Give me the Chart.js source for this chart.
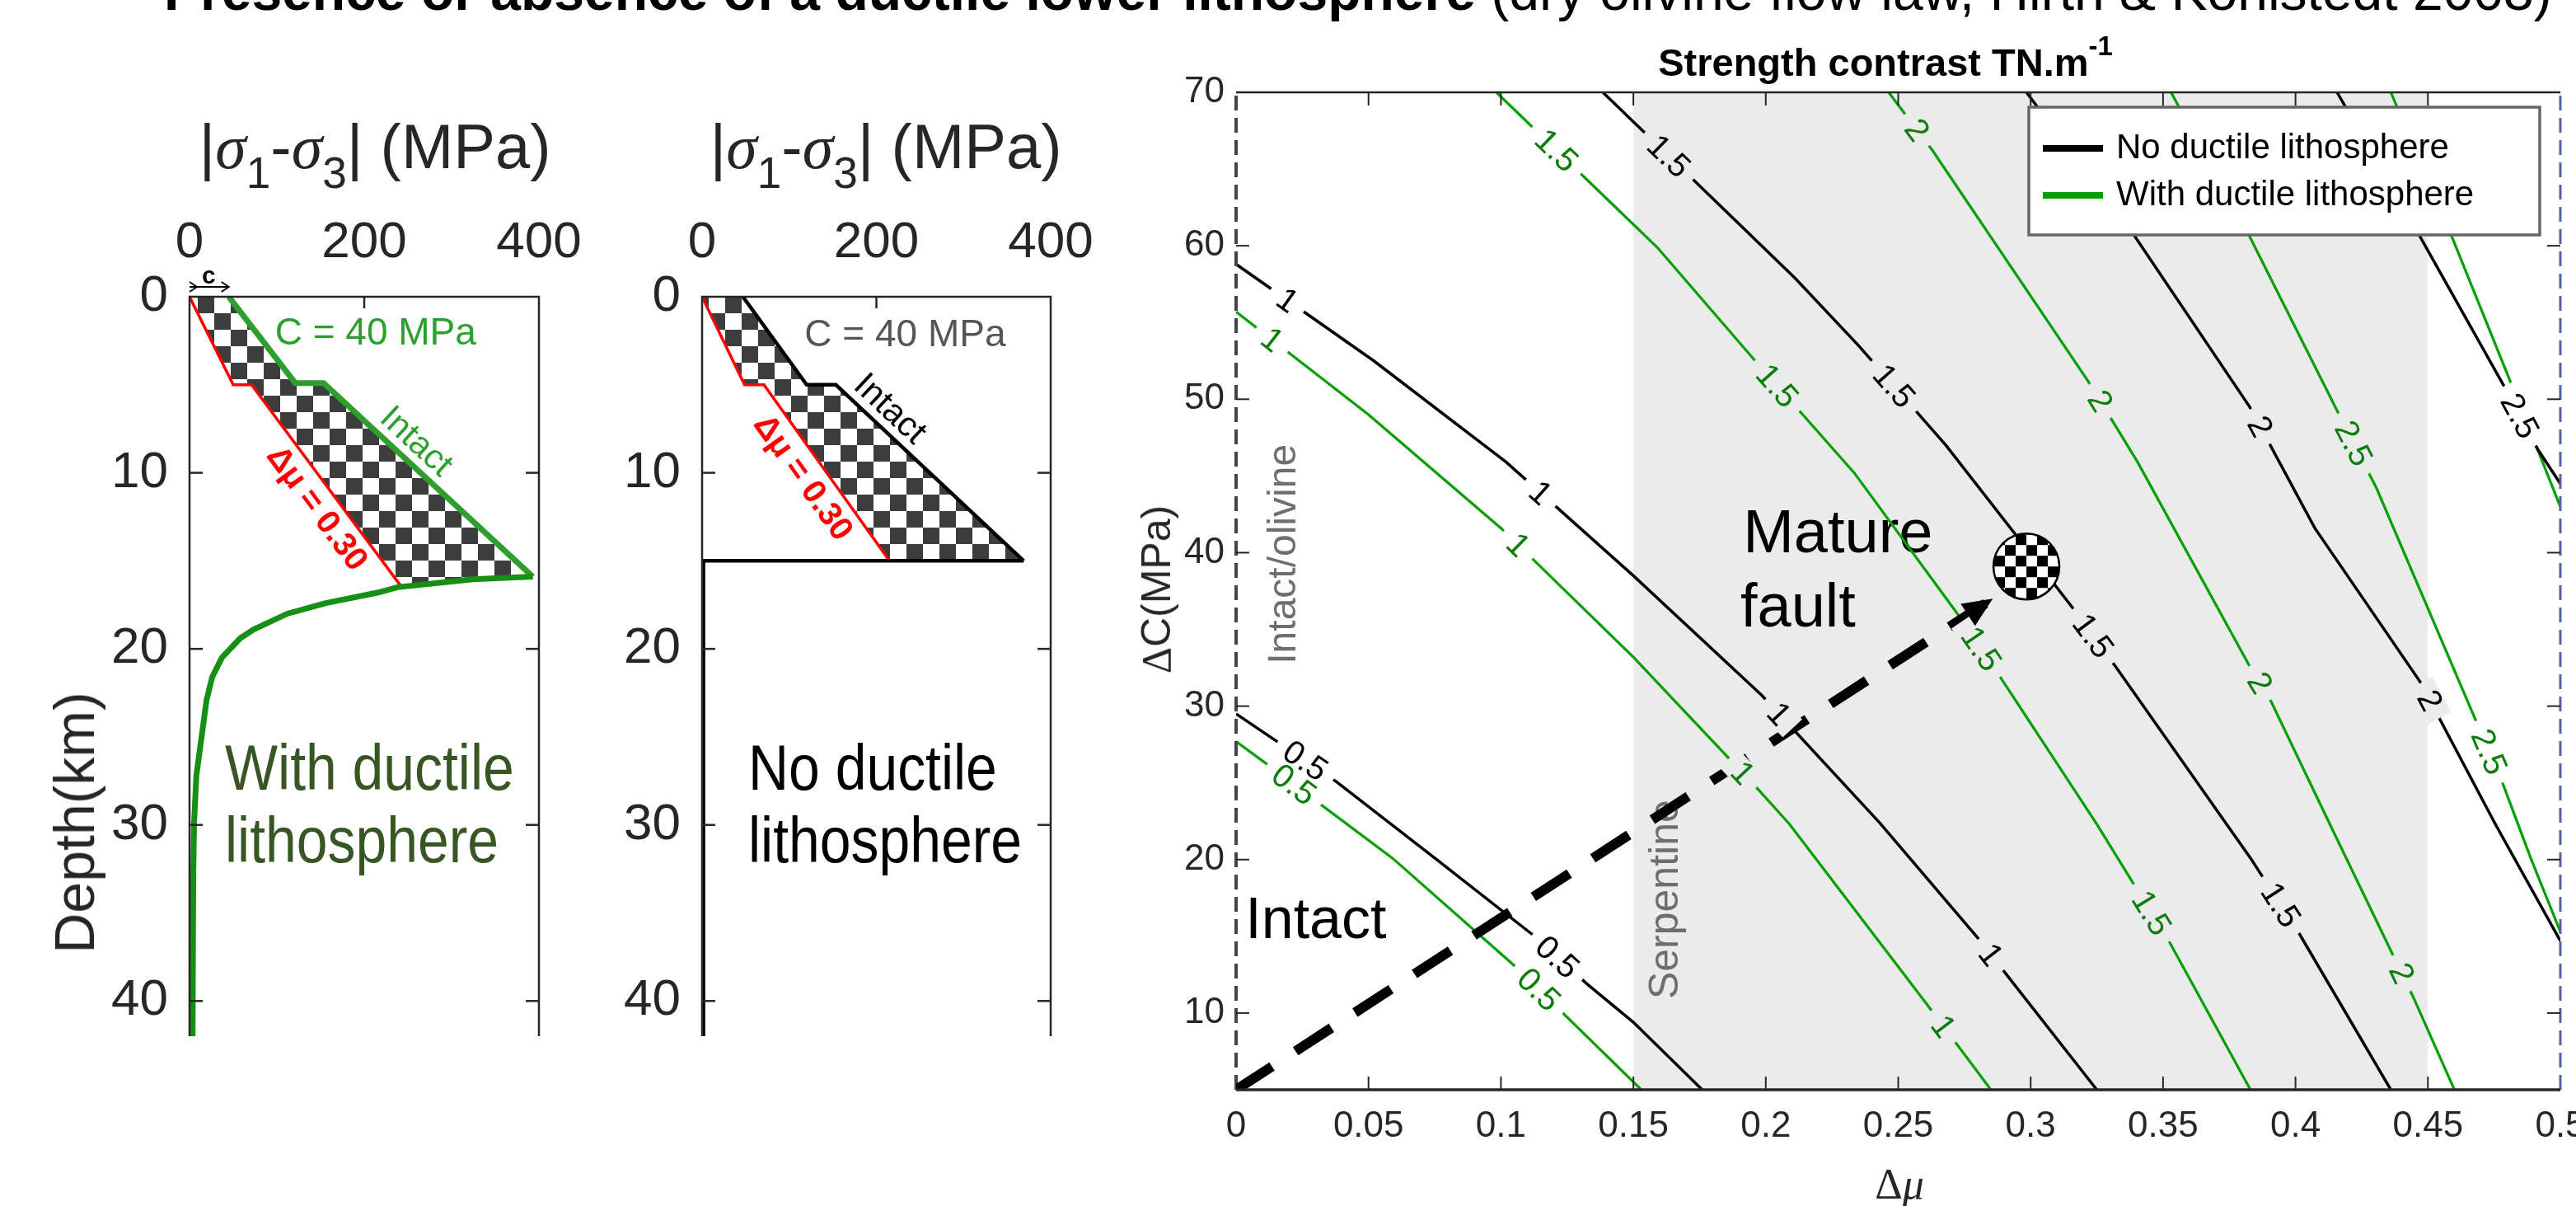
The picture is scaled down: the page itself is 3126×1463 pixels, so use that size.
<!DOCTYPE html>
<html>
<head>
<meta charset="utf-8">
<script src="https://cdn.jsdelivr.net/npm/chart.js@4.4.1/dist/chart.umd.min.js"></script>
<style>
  html, body { margin: 0; padding: 0; background: #fff; }
  body { position: relative; width: 3126px; height: 1463px; overflow: hidden; font-family: "Liberation Sans", Arial, sans-serif; color: #262626; }
  canvas { position: absolute; }
  .lbl { position: absolute; white-space: nowrap; line-height: 1; z-index: 2; }
  .sig { font-family: "Liberation Serif", "Times New Roman", serif; font-style: italic; }
  .sub { font-size: 0.7em; position: relative; top: 0.45em; }
  .rot { transform: translate(-50%, -50%) rotate(-90deg); }
  .ctr { transform: translate(-50%, -50%); }
</style>
</head>
<body>
<div class="lbl" style="left:199px; top:-44px; font-size:66px; color:#000;"><b>Presence or absence of a ductile lower lithosphere</b> (dry olivine flow law, Hirth &amp; Kohlstedt 2003)</div>

<div class="lbl" style="left:155px; width:600px; text-align:center; top:140px; font-size:76px;">|<span class="sig">σ</span><span class="sub">1</span>-<span class="sig">σ</span><span class="sub">3</span>| (MPa)</div>
<div class="lbl" style="left:775px; width:600px; text-align:center; top:140px; font-size:76px;">|<span class="sig">σ</span><span class="sub">1</span>-<span class="sig">σ</span><span class="sub">3</span>| (MPa)</div>
<div class="lbl rot" style="left:90px; top:998px; font-size:68px;">Depth(km)</div>

<div class="lbl" style="left:1988px; width:600px; text-align:center; top:52px; font-size:47px; font-weight:bold; color:#000;">Strength contrast TN.m<span style="font-size:0.7em; position:relative; top:-0.75em;">-1</span></div>
<div class="lbl rot" style="left:1403px; top:715px; font-size:50px;"><span style="font-family:'Liberation Serif',serif;">Δ</span>C(MPa)</div>
<div class="lbl ctr" style="left:2305px; top:1437px; font-size:52px; font-family:'Liberation Serif',serif;">Δ<i>μ</i></div>

<canvas id="profileWith" width="720" height="1017" style="left:0; top:240px;"></canvas>
<canvas id="profileNo" width="620" height="1017" style="left:720px; top:240px;"></canvas>
<canvas id="strengthMap" width="1786" height="1403" style="left:1340px; top:60px;"></canvas>

<script>
// ---- profils |s1-s3| (MPa) vs profondeur (km) ----
const sigmaTicks = [0, 200, 400];
const depthTicks = [0, 10, 20, 30, 40];

const intactWith = [[45, 0], [121, 4.9], [153.5, 4.9], [393, 15.9]];
const faultWith = [[0, 0], [50, 5], [71, 5], [243, 16.5]];
const ductileWith = [[393, 15.9], [324, 16.05], [238, 16.5], [216, 16.8], [156, 17.4], [112, 18.0], [73.5, 18.9], [58, 19.4], [37, 20.5], [26, 21.6], [19.5, 22.9], [13, 25.3], [7.8, 27.2], [5.2, 29.9], [4.3, 32.7], [3.5, 42]];

const intactNo = [[46.8, 0], [120, 5], [153.5, 5], [369, 15]];
const faultNo = [[0, 0], [48.7, 5], [71, 5], [215, 15]];
const faultBaseNo = [[215, 15], [0, 15], [0, 42]];
const baseNo = [[369, 15], [1.5, 15], [1.5, 42]];

// ---- contraste de résistance : delta mu / delta C (MPa) ----
const muTicks = [0, 0.05, 0.1, 0.15, 0.2, 0.25, 0.3, 0.35, 0.4, 0.45, 0.5];
const dcTicks = [10, 20, 30, 40, 50, 60, 70];
const serpentineBand = [0.15, 0.45];

const noDuct05 = [[0, 29.5], [0.0377, 25.1], [0.075, 20.1], [0.112, 15.1], [0.1325, 11.9], [0.15, 9.4], [0.176, 5]];
const noDuct1 = [[0, 58.8], [0.052, 52.5], [0.102, 45.9], [0.15, 38.5], [0.1985, 30.7], [0.243, 22.4], [0.28, 14.9], [0.325, 5]];
const noDuct15 = [[0.1385, 70], [0.211, 57.9], [0.235, 53.5], [0.268, 47], [0.315, 36.6], [0.332, 32.6], [0.383, 20.1], [0.401, 15.3], [0.436, 5]];
const noDuct2 = [[0.2984, 70], [0.3394, 60.6], [0.3827, 49.5], [0.4073, 41.6], [0.447, 31.6], [0.4755, 22.3], [0.5, 14.7]];
const noDuct25 = [[0.4157, 70], [0.447, 60.6], [0.4786, 50.9], [0.4916, 46.7], [0.5, 44.5]];

const withDuct05 = [[0, 27.7], [0.0118, 26.2], [0.059, 20.1], [0.105, 13.1], [0.153, 5]];
const withDuct1 = [[0, 55.7], [0.05, 49.0], [0.1, 41.6], [0.15, 33.2], [0.197, 24.6], [0.209, 22.3], [0.262, 10.3], [0.285, 5]];
const withDuct15 = [[0.0983, 70], [0.1307, 64.6], [0.159, 59.9], [0.195, 52.7], [0.2334, 45.2], [0.2716, 36.2], [0.287, 32.3], [0.325, 22.3], [0.3525, 14.6], [0.383, 5]];
const withDuct2 = [[0.2464, 70], [0.263, 66.2], [0.322, 51.1], [0.3404, 45.9], [0.3827, 32.6], [0.3908, 30.3], [0.413, 22.3], [0.4443, 11.1], [0.46, 5]];
const withDuct25 = [[0.353, 70], [0.3827, 60.6], [0.4185, 48.3], [0.4306, 44.2], [0.468, 29.1], [0.4786, 24.8], [0.4888, 20.1], [0.5, 15.3]];
const withDuct3 = [[0.436, 70], [0.459, 60.6], [0.485, 49.5], [0.5, 43]];

// [niveau, mu, C] des étiquettes de contour
const noDuctLabels = [[0.5, 0.026, 26.4], [0.5, 0.12, 13.4], [1, 0.02, 56.6], [1, 0.115, 43.9], [1, 0.205, 29.5], [1, 0.285, 13.8],
  [1.5, 0.1637, 65.9], [1.5, 0.248, 50.8], [1.5, 0.323, 34.5], [1.5, 0.394, 17.0], [2, 0.3864, 48.2], [2, 0.449, 30.2], [2.5, 0.4835, 48.8]];
const withDuctLabels = [[0.5, 0.0215, 24.8], [0.5, 0.113, 11.3], [1, 0.0137, 53.9], [1, 0.1064, 40.5], [1, 0.191, 25.6], [1, 0.2676, 9.2],
  [1.5, 0.1198, 66], [1.5, 0.2038, 50.8], [1.5, 0.2794, 33.5], [1.5, 0.3454, 16.5], [2, 0.256, 67.4], [2, 0.3245, 49.7], [2, 0.3855, 31.4], [2, 0.439, 12.5],
  [2.5, 0.4228, 47.2], [2.5, 0.4714, 26.9]];

const arrowPath = [[0, 5], [0.2857, 37.0]];
const matureFault = [0.2984, 39.1];
const intactEdge = [[0, 5], [0, 70]];
const maxEdge = [[0.5, 5], [0.5, 70]];

const noDuctSets = [[0.5, noDuct05], [1, noDuct1], [1.5, noDuct15], [2, noDuct2], [2.5, noDuct25]];
const withDuctSets = [[0.5, withDuct05], [1, withDuct1], [1.5, withDuct15], [2, withDuct2], [2.5, withDuct25], [3, withDuct3]];

const FONT = '"Liberation Sans", Arial, sans-serif';
Chart.defaults.font.family = FONT;

// ---- helpers ----
const xy = a => a.map(p => ({ x: p[0], y: p[1] }));

function mkLine(data, color, width, extra) {
  return Object.assign({ data: xy(data), showLine: true, borderColor: color, borderWidth: width,
    pointRadius: 0, fill: false, tension: 0 }, extra || {});
}

function fixedSize(size, horizontal) {
  return s => {
    if (horizontal) s.height = size; else s.width = size;
    s.paddingLeft = s.paddingRight = s.paddingTop = s.paddingBottom = 0;
  };
}

function pix(chart, p) {
  return [chart.scales.x.getPixelForValue(p[0]), chart.scales.y.getPixelForValue(p[1])];
}

function txt(ctx, s, X, Y, o) {
  ctx.save();
  ctx.translate(X, Y);
  if (o.rot) ctx.rotate(o.rot);
  if (o.sx) ctx.scale(o.sx, 1);
  ctx.font = o.font;
  ctx.fillStyle = o.color || '#000';
  ctx.textAlign = o.align || 'left';
  ctx.textBaseline = o.base || 'alphabetic';
  ctx.fillText(s, 0, 0);
  ctx.restore();
}

function note(chart, s, p, o) {
  const [X, Y] = pix(chart, p);
  txt(chart.ctx, s, X, Y, o);
}

function angleOf(chart, p1, p2) {
  const a = pix(chart, p1), b = pix(chart, p2);
  return Math.atan2(b[1] - a[1], b[0] - a[0]);
}

function seg(ctx, x0, y0, x1, y1) {
  ctx.beginPath(); ctx.moveTo(x0, y0); ctx.lineTo(x1, y1); ctx.stroke();
}

const checkerTile = (() => {
  const c = document.createElement('canvas');
  c.width = c.height = 40;
  const g = c.getContext('2d');
  g.fillStyle = '#fff'; g.fillRect(0, 0, 40, 40);
  g.fillStyle = '#3d3d3d'; g.fillRect(0, 0, 20, 20); g.fillRect(20, 20, 20, 20);
  return c;
})();

function fillChecker(chart, pts) {
  const ctx = chart.ctx;
  ctx.save();
  ctx.beginPath();
  pts.forEach((p, i) => { const [X, Y] = pix(chart, p); i ? ctx.lineTo(X, Y) : ctx.moveTo(X, Y); });
  ctx.closePath();
  ctx.fillStyle = ctx.createPattern(checkerTile, 'repeat');
  ctx.fill();
  ctx.restore();
}

// cadre sans bord inférieur + graduations internes (style MATLAB)
function profileFrame(chart) {
  const { ctx, chartArea: a, scales: { x, y } } = chart;
  ctx.save();
  ctx.strokeStyle = '#262626';
  ctx.lineWidth = 2.5;
  ctx.beginPath();
  ctx.moveTo(a.left, a.bottom); ctx.lineTo(a.left, a.top); ctx.lineTo(a.right, a.top); ctx.lineTo(a.right, a.bottom);
  ctx.stroke();
  x.ticks.forEach(t => {
    const X = x.getPixelForValue(t.value);
    if (X > a.left + 2 && X < a.right - 2) seg(ctx, X, a.top, X, a.top + 14);
  });
  y.ticks.forEach(t => {
    const Y = y.getPixelForValue(t.value);
    if (Y > a.top + 2) { seg(ctx, a.left, Y, a.left + 16, Y); seg(ctx, a.right - 16, Y, a.right, Y); }
  });
  ctx.restore();
}

function profileChart(id, datasets, yWidth, padRight, plugin) {
  const el = document.getElementById(id);
  return new Chart(el.getContext('2d'), {
    type: 'scatter',
    data: { datasets },
    options: {
      responsive: false, animation: false, events: [],
      layout: { padding: { left: 0, top: 0, bottom: 0, right: padRight } },
      plugins: { legend: { display: false }, tooltip: { enabled: false } },
      scales: {
        x: {
          type: 'linear', position: 'top', min: 0, max: 400,
          afterBuildTicks: s => { s.ticks = sigmaTicks.map(v => ({ value: v })); },
          afterFit: fixedSize(120, true),
          grid: { display: false, drawTicks: false }, border: { display: false },
          ticks: { font: { size: 62 }, color: '#262626', padding: 28, maxRotation: 0, autoSkip: false, callback: v => String(v) }
        },
        y: {
          type: 'linear', reverse: true, min: 0, max: 42,
          afterBuildTicks: s => { s.ticks = depthTicks.map(v => ({ value: v })); },
          afterFit: fixedSize(yWidth, false),
          grid: { display: false, drawTicks: false }, border: { display: false },
          ticks: { font: { size: 62 }, color: '#262626', padding: 26, autoSkip: false, callback: v => String(v) }
        }
      }
    },
    plugins: [plugin]
  });
}

function cArrow(chart) {
  const ctx = chart.ctx;
  const [x0, ya] = pix(chart, [0, -0.56]);
  const [x1] = pix(chart, [45, -0.56]);
  ctx.save();
  ctx.strokeStyle = '#000'; ctx.lineWidth = 2;
  seg(ctx, x0, ya, x1, ya);
  ctx.beginPath(); ctx.moveTo(x1 - 9, ya - 6); ctx.lineTo(x1, ya); ctx.lineTo(x1 - 9, ya + 6); ctx.stroke();
  ctx.beginPath(); ctx.moveTo(x0, ya - 6); ctx.lineTo(x0 + 9, ya); ctx.lineTo(x0, ya + 6); ctx.stroke();
  ctx.restore();
  note(chart, 'c', [22, -0.75], { font: 'bold 30px ' + FONT, align: 'center', base: 'alphabetic' });
}

// ---- panneau A : avec lithosphère ductile ----
const panelWith = {
  id: 'panelWith',
  beforeDatasetsDraw(chart) {
    fillChecker(chart, [...faultWith, ...ductileWith.slice(0, 2).reverse(), ...intactWith.slice().reverse()]);
  },
  afterDatasetsDraw(chart) {
    profileFrame(chart);
    cArrow(chart);
    note(chart, 'C = 40 MPa', [213, 2.1], { font: '46px ' + FONT, color: '#2ca02c', align: 'center', base: 'middle' });
    note(chart, 'Intact', [259, 8.25], { font: '42px ' + FONT, color: '#2ca02c', align: 'center', base: 'middle', rot: angleOf(chart, intactWith[2], intactWith[3]) });
    note(chart, 'Δμ = 0.30', [145, 12.05], { font: 'bold 40px ' + FONT, color: '#ff0000', align: 'center', base: 'middle', rot: angleOf(chart, faultWith[2], faultWith[3]) });
    note(chart, 'With ductile', [40.6, 28.0], { font: '78px ' + FONT, color: '#375623', sx: 0.87 });
    note(chart, 'lithosphere', [40.6, 32.1], { font: '78px ' + FONT, color: '#375623', sx: 0.87 });
  }
};

profileChart('profileWith', [
  mkLine(ductileWith, '#149014', 7),
  mkLine(intactWith, '#2e9e2e', 7),
  mkLine(faultWith, '#ff0000', 3.5)
], 230, 66, panelWith);

// ---- panneau B : sans lithosphère ductile ----
const panelNo = {
  id: 'panelNo',
  beforeDatasetsDraw(chart) {
    fillChecker(chart, [...faultNo, ...intactNo.slice().reverse()]);
  },
  afterDatasetsDraw(chart) {
    profileFrame(chart);
    note(chart, 'C = 40 MPa', [233, 2.2], { font: '46px ' + FONT, color: '#555', align: 'center', base: 'middle' });
    note(chart, 'Intact', [215, 6.4], { font: '42px ' + FONT, color: '#000', align: 'center', base: 'middle', rot: angleOf(chart, intactNo[2], intactNo[3]) });
    note(chart, 'Δμ = 0.30', [115, 10.3], { font: 'bold 40px ' + FONT, color: '#ff0000', align: 'center', base: 'middle', rot: angleOf(chart, faultNo[2], faultNo[3]) });
    note(chart, 'No ductile', [53, 28.0], { font: '78px ' + FONT, color: '#000', sx: 0.87 });
    note(chart, 'lithosphere', [53, 32.1], { font: '78px ' + FONT, color: '#000', sx: 0.87 });
  }
};

profileChart('profileNo', [
  mkLine(baseNo, '#000', 4.5),
  mkLine(intactNo, '#000', 4.5),
  mkLine(faultNo, '#ff0000', 3.5),
  mkLine(faultBaseNo, '#ff0000', 3.5)
], 132, 65, panelNo);

// ---- panneau C : carte de contraste ----
function inBand(mu) { return mu >= serpentineBand[0] && mu <= serpentineBand[1]; }

function labelContours(chart, sets, labels, color) {
  const ctx = chart.ctx;
  labels.forEach(([lev, mu, dc]) => {
    const pts = sets.find(s => s[0] === lev)[1].map(p => pix(chart, p));
    const [X, Y] = pix(chart, [mu, dc]);
    let best = null, bd = Infinity;
    for (let i = 0; i < pts.length - 1; i++) {
      const [ax, ay] = pts[i], [bx, by] = pts[i + 1];
      const L2 = (bx - ax) ** 2 + (by - ay) ** 2;
      const t = Math.max(0, Math.min(1, ((X - ax) * (bx - ax) + (Y - ay) * (by - ay)) / L2));
      const qx = ax + t * (bx - ax), qy = ay + t * (by - ay);
      const d = Math.hypot(X - qx, Y - qy);
      if (d < bd) { bd = d; best = { qx, qy, a: Math.atan2(by - ay, bx - ax) }; }
    }
    const s = String(lev);
    ctx.save();
    ctx.translate(best.qx, best.qy);
    ctx.rotate(best.a);
    ctx.font = '40px ' + FONT;
    const w = ctx.measureText(s).width;
    ctx.fillStyle = inBand(mu) ? '#ebebeb' : '#fff';
    ctx.fillRect(-w / 2 - 13, -16, w + 26, 32);
    ctx.fillStyle = color;
    ctx.textAlign = 'center';
    ctx.textBaseline = 'middle';
    ctx.fillText(s, 0, 2);
    ctx.restore();
  });
}

const strengthPlugin = {
  id: 'strengthMap',
  beforeDatasetsDraw(chart) {
    const { ctx, chartArea: a, scales: { x } } = chart;
    const x0 = x.getPixelForValue(serpentineBand[0]), x1 = x.getPixelForValue(serpentineBand[1]);
    ctx.save();
    ctx.fillStyle = '#ebebeb';
    ctx.fillRect(x0, a.top, x1 - x0, a.bottom - a.top);
    ctx.restore();
    note(chart, 'Serpentine', [0.1668, 17.4], { font: '50px ' + FONT, color: '#6e6e6e', align: 'center', rot: -Math.PI / 2 });
    note(chart, 'Intact/olivine', [0.0224, 39.9], { font: '48px ' + FONT, color: '#6e6e6e', align: 'center', rot: -Math.PI / 2 });
    note(chart, 'Mature', [0.1914, 40.0], { font: '74px ' + FONT, color: '#000' });
    note(chart, 'fault', [0.1904, 35.2], { font: '74px ' + FONT, color: '#000' });
    note(chart, 'Intact', [0.0035, 14.9], { font: '70px ' + FONT, color: '#000' });
  },
  afterDatasetsDraw(chart) {
    const { ctx, chartArea: a, scales: { x, y } } = chart;
    labelContours(chart, noDuctSets, noDuctLabels, '#000');
    labelContours(chart, withDuctSets, withDuctLabels, '#0a7d0a');

    // cadre et graduations
    ctx.save();
    ctx.strokeStyle = '#262626';
    ctx.lineWidth = 2.5;
    seg(ctx, a.left, a.top, a.right, a.top);
    ctx.lineWidth = 3.5;
    seg(ctx, a.left, a.bottom, a.right, a.bottom);
    ctx.lineWidth = 2;
    x.ticks.forEach(t => {
      const X = x.getPixelForValue(t.value);
      if (X > a.left + 2 && X < a.right - 2) { seg(ctx, X, a.top, X, a.top + 16); seg(ctx, X, a.bottom - 16, X, a.bottom); }
    });
    y.ticks.forEach(t => {
      const Y = y.getPixelForValue(t.value);
      if (Y > a.top + 2 && Y < a.bottom - 2) { seg(ctx, a.left, Y, a.left + 16, Y); seg(ctx, a.right - 16, Y, a.right, Y); }
    });
    ctx.restore();

    // pointe de la flèche
    const p0 = pix(chart, arrowPath[0]), p1 = pix(chart, arrowPath[1]);
    const L = Math.hypot(p1[0] - p0[0], p1[1] - p0[1]);
    const ux = (p1[0] - p0[0]) / L, uy = (p1[1] - p0[1]) / L;
    ctx.save();
    ctx.fillStyle = '#000';
    ctx.beginPath();
    ctx.moveTo(p1[0], p1[1]);
    ctx.lineTo(p1[0] - ux * 36 - uy * 16, p1[1] - uy * 36 + ux * 16);
    ctx.lineTo(p1[0] - ux * 36 + uy * 16, p1[1] - uy * 36 - ux * 16);
    ctx.closePath();
    ctx.fill();
    ctx.restore();

    // faille mature : disque en damier
    const [cx, cy] = pix(chart, matureFault);
    const r = 40, cell = 13;
    ctx.save();
    ctx.beginPath();
    ctx.arc(cx, cy, r, 0, Math.PI * 2);
    ctx.clip();
    ctx.fillStyle = '#fff';
    ctx.fillRect(cx - r, cy - r, 2 * r, 2 * r);
    ctx.fillStyle = '#000';
    for (let i = -4; i < 4; i++) for (let j = -4; j < 4; j++) {
      if ((i + j) % 2 === 0) ctx.fillRect(cx + i * cell, cy + j * cell, cell, cell);
    }
    ctx.restore();
    ctx.save();
    ctx.strokeStyle = '#000'; ctx.lineWidth = 2.5;
    ctx.beginPath(); ctx.arc(cx, cy, r, 0, Math.PI * 2); ctx.stroke();
    ctx.restore();

    // légende
    const items = chart.data.datasets.filter(d => d.label);
    const lx = a.right - 645, ly = a.top + 18, lw = 620, lh = 155;
    ctx.save();
    ctx.fillStyle = '#fff';
    ctx.fillRect(lx, ly, lw, lh);
    ctx.strokeStyle = '#666'; ctx.lineWidth = 3.5;
    ctx.strokeRect(lx, ly, lw, lh);
    items.forEach((d, i) => {
      const yy = ly + 50 + i * 57;
      ctx.strokeStyle = d.borderColor; ctx.lineWidth = 8;
      seg(ctx, lx + 17, yy, lx + 90, yy);
      txt(ctx, d.label, lx + 106, yy, { font: '42px ' + FONT, color: '#000', base: 'middle' });
    });
    ctx.restore();
  }
};

const contourSets = [
  ...noDuctSets.map((s, i) => mkLine(s[1], '#000', 3.5, i === 0 ? { label: 'No ductile lithosphere' } : {})),
  ...withDuctSets.map((s, i) => mkLine(s[1], '#00a000', 3.2, i === 0 ? { label: 'With ductile lithosphere' } : {}))
];

new Chart(document.getElementById('strengthMap').getContext('2d'), {
  type: 'scatter',
  data: {
    datasets: [
      mkLine(arrowPath, '#000', 12, { borderDash: [52, 34], borderCapStyle: 'butt' }),
      mkLine(intactEdge, '#444', 4, { borderDash: [18, 9], clip: false }),
      mkLine(maxEdge, '#5563a5', 3, { borderDash: [18, 9], clip: false }),
      ...contourSets
    ]
  },
  options: {
    responsive: false, animation: false, events: [],
    layout: { padding: { left: 0, top: 52, bottom: 0, right: 19 } },
    plugins: { legend: { display: false }, tooltip: { enabled: false } },
    scales: {
      x: {
        type: 'linear', position: 'bottom', min: 0, max: 0.5,
        afterBuildTicks: s => { s.ticks = muTicks.map(v => ({ value: v })); },
        afterFit: fixedSize(141, true),
        grid: { display: false, drawTicks: false }, border: { display: false },
        ticks: { font: { size: 44 }, color: '#262626', padding: 18, maxRotation: 0, autoSkip: false, callback: v => String(v) }
      },
      y: {
        type: 'linear', min: 5, max: 70,
        afterBuildTicks: s => { s.ticks = dcTicks.map(v => ({ value: v })); },
        afterFit: fixedSize(160, false),
        grid: { display: false, drawTicks: false }, border: { display: false },
        ticks: { font: { size: 44 }, color: '#262626', padding: 14, autoSkip: false, callback: v => String(v) }
      }
    }
  },
  plugins: [strengthPlugin]
});
</script>
</body>
</html>
